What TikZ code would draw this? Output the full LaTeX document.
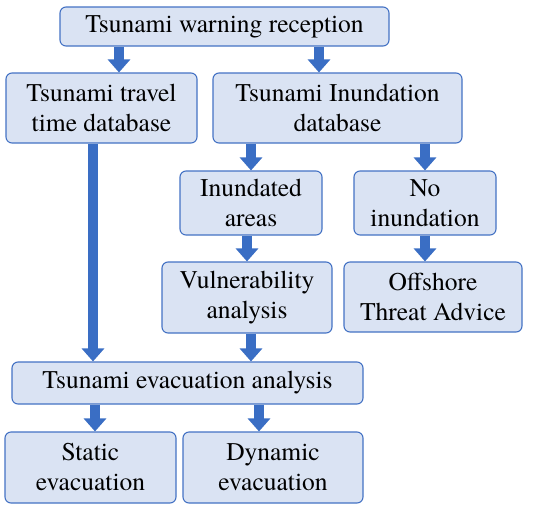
\documentclass[tikz,border=0pt]{standalone}
\usepackage{fontspec}
\setmainfont{TeX Gyre Termes}
\usetikzlibrary{arrows.meta, calc}
\definecolor{boxfill}{RGB}{218,227,243}
\definecolor{boxline}{RGB}{68,114,196}
\definecolor{flowblue}{RGB}{58,110,196}

\begin{document}
\begin{tikzpicture}[x=1pt, y=-1pt, line join=round,
		font=\fontsize{25.5}{30}\selectfont,
		stage/.style={draw=boxline, fill=boxfill, line width=1.1pt, rounded corners=6pt,
			align=center, inner sep=0pt},
		flow/.style={draw=flowblue, line width=10pt, -{Triangle[length=13pt, width=22pt]}}]
		
		\useasboundingbox (0,0) rectangle (546,504);
		
		%========================
		% Top: reception and databases
		%========================
		\node[stage, minimum width=329pt, minimum height=39pt] (warn) at (224.5,26.5)
			{Tsunami warning reception};
		\node[stage, minimum width=191pt, minimum height=70pt] (travel) at (101.5,108)
			{Tsunami travel\\time database};
		\node[stage, minimum width=249pt, minimum height=70pt] (indb) at (337.5,108)
			{Tsunami Inundation\\database};
		
		%========================
		% Middle: inundation branches
		%========================
		\node[stage, minimum width=142pt, minimum height=64pt] (areas) at (251,203)
			{Inundated\\areas};
		\node[stage, minimum width=142pt, minimum height=64pt] (noinund) at (425,203)
			{No\\inundation};
		\node[stage, minimum width=170pt, minimum height=71pt] (vuln) at (247,297.5)
			{Vulnerability\\analysis};
		\node[stage, minimum width=178pt, minimum height=70pt] (offshore) at (433,297)
			{Offshore\\Threat Advice};
		
		%========================
		% Bottom: evacuation
		%========================
		\node[stage, minimum width=351pt, minimum height=42pt] (evac) at (187.5,383)
			{Tsunami evacuation analysis};
		\node[stage, minimum width=171pt, minimum height=71pt] (static) at (90.5,467.5)
			{Static\\evacuation};
		\node[stage, minimum width=180pt, minimum height=71pt] (dynamic) at (273,467.5)
			{Dynamic\\evacuation};
		
		% arrows
		\draw[flow] (warn.south -| 119,0) -- (travel.north -| 119,0);
		\draw[flow] (warn.south -| 319,0) -- (indb.north -| 319,0);
		\draw[flow] (indb.south -| areas.north) -- (areas.north);
		\draw[flow] (indb.south -| noinund.north) -- (noinund.north);
		\draw[flow] (areas.south -| vuln.north) -- (vuln.north);
		\draw[flow] (noinund.south) -- (offshore.north -| noinund.south);
		\draw[flow] (travel.south -| 93,0) -- (evac.north -| 93,0);
		\draw[flow] (vuln.south -| 251,0) -- (evac.north -| 251,0);
		\draw[flow] (evac.south -| 95,0) -- (static.north -| 95,0);
		\draw[flow] (evac.south -| 259,0) -- (dynamic.north -| 259,0);
		
	\end{tikzpicture}
\end{document}
